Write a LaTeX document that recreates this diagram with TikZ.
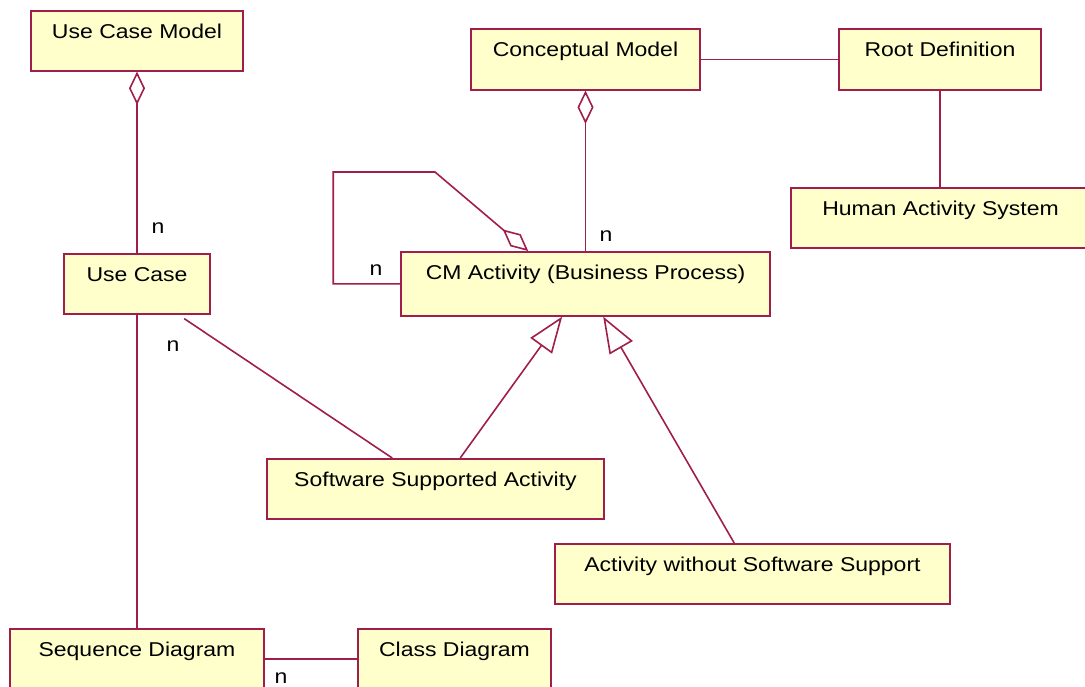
\documentclass[tikz,border=0pt]{standalone}
\usepackage{fontspec}
\setmainfont{Liberation Sans}[FakeStretch=1.15]
\usepackage{tikz}
\usepackage{xcolor}
\usetikzlibrary{arrows.meta, calc}
\definecolor{umlline}{RGB}{160,30,75}
\definecolor{umlfill}{RGB}{255,255,204}
\tikzstyle{block} = [rectangle, draw=umlline, line width=1.2pt, fill=umlfill, anchor=north, inner xsep=0, inner ysep=0, text height=21pt, text depth=24pt, font=\fontsize{15pt}{18pt}\selectfont]
\tikzstyle{mult} = [inner sep=0, font=\fontsize{15pt}{18pt}\selectfont]
\tikzstyle{line} = [draw=umlline, line width=1.2pt]
\tikzstyle{aggr} = [line, {Diamond[open, length=25pt, width=12pt]}-]
\tikzstyle{gen} = [line, -{Triangle[open, length=27pt, width=20pt]}]

\begin{document}
\begin{tikzpicture}[x=0.75pt, y=-0.75pt]
\useasboundingbox (0,0) rectangle (1085,686);

\node [block, minimum width=159pt] (ucm) at (137,10) {Use Case Model};
\node [block, minimum width=171.75pt, text depth=24.75pt] (cm) at (585.5,28) {Conceptual Model};
\node [block, minimum width=151.5pt, text depth=24.75pt] (rd) at (940,28) {Root Definition};
\node [block, minimum width=224.25pt] (has) at (940.5,187) {Human Activity System};
\node [block, minimum width=109.5pt] (uc) at (137,253) {Use Case};
\node [block, minimum width=276.75pt, text depth=27pt] (cma) at (585.5,251) {CM Activity (Business Process)};
\node [block, minimum width=252.75pt] (ssa) at (435.5,458) {Software Supported Activity};
\node [block, minimum width=296.25pt] (awss) at (752.5,543) {Activity without Software Support};
\node [block, minimum width=190.5pt] (sd) at (137,628) {Sequence Diagram};
\node [block, minimum width=144.75pt] (cd) at (454.5,628) {Class Diagram};

% multiplicities
\node [mult] (n1) at (158,228) {n};
\node [mult] (n2) at (606,236) {n};
\node [mult] (n3) at (376,270) {n};
\node [mult] (n4) at (173,346) {n};
\node [mult] (n5) at (281,678) {n};

\coordinate (bend) at (435,172);
\coordinate (ucfoot) at ($(uc.south west)+(121,4)$);

\path [aggr] (ucm.south) -- (uc.north);
\path [aggr] (cm.south) -- (cma.north);
\path [line] (cm.east) -- (rd.west);
\path [line] (rd.south) -- (rd.south |- has.north);
\path [line] (uc.south) -- (sd.north);
\path [line] (sd.east) -- (cd.west);
\path [line] (ucfoot) -- ($(ssa.north west)+(126,0)$);
\path [line, -{Diamond[open, length=25pt, width=12pt]}] (cma.west) -- ++(-67,0) |- (bend) -- ($(cma.north west)+(128,0)$);

\path [gen] ($(ssa.north west)+(194,0)$) -- ($(cma.south west)+(162,0)$);
\path [gen] ($(awss.north west)+(180,0)$) -- ($(cma.south west)+(203,0)$);

\end{tikzpicture}
\end{document}
